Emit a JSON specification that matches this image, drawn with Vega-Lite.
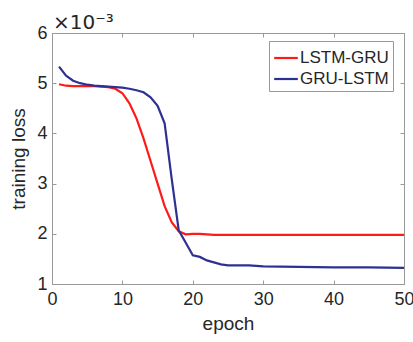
{
  "$schema": "https://vega.github.io/schema/vega-lite/v6.json",
  "width": 352,
  "height": 251,
  "autosize": {"type": "none"},
  "padding": {"left": 52, "top": 33, "right": 9, "bottom": 58},
  "background": "white",
  "title": {"text": "×10⁻³", "anchor": "start", "frame": "group", "fontSize": 20, "fontWeight": "normal", "font": "DejaVu Sans", "color": "#262626", "offset": 0, "dx": 1, "dy": 9},
  "config": {
    "view": {"stroke": "#999999", "strokeWidth": 1},
    "axis": {"grid": false, "domainColor": "#999999", "tickColor": "#999999", "labelColor": "#262626", "titleColor": "#262626", "labelFont": "Liberation Sans", "titleFont": "Liberation Sans", "labelFontSize": 18, "titleFontSize": 19, "titleFontWeight": "normal", "tickSize": -4},
    "legend": {"labelFont": "Liberation Sans"}
  },
  "data": {"values": [
    {"epoch": 1, "s": "LSTM-GRU", "loss": 4.98}, {"epoch": 2, "s": "LSTM-GRU", "loss": 4.95}, {"epoch": 3, "s": "LSTM-GRU", "loss": 4.94}, {"epoch": 4, "s": "LSTM-GRU", "loss": 4.94}, {"epoch": 5, "s": "LSTM-GRU", "loss": 4.94},
    {"epoch": 6, "s": "LSTM-GRU", "loss": 4.94}, {"epoch": 7, "s": "LSTM-GRU", "loss": 4.93}, {"epoch": 8, "s": "LSTM-GRU", "loss": 4.92}, {"epoch": 9, "s": "LSTM-GRU", "loss": 4.89}, {"epoch": 10, "s": "LSTM-GRU", "loss": 4.8},
    {"epoch": 11, "s": "LSTM-GRU", "loss": 4.6}, {"epoch": 12, "s": "LSTM-GRU", "loss": 4.3}, {"epoch": 13, "s": "LSTM-GRU", "loss": 3.9}, {"epoch": 14, "s": "LSTM-GRU", "loss": 3.45}, {"epoch": 15, "s": "LSTM-GRU", "loss": 3.0},
    {"epoch": 16, "s": "LSTM-GRU", "loss": 2.55}, {"epoch": 17, "s": "LSTM-GRU", "loss": 2.23}, {"epoch": 18, "s": "LSTM-GRU", "loss": 2.05}, {"epoch": 19, "s": "LSTM-GRU", "loss": 1.99}, {"epoch": 20, "s": "LSTM-GRU", "loss": 2.0},
    {"epoch": 21, "s": "LSTM-GRU", "loss": 2.0}, {"epoch": 22, "s": "LSTM-GRU", "loss": 1.99}, {"epoch": 23, "s": "LSTM-GRU", "loss": 1.98}, {"epoch": 25, "s": "LSTM-GRU", "loss": 1.98}, {"epoch": 30, "s": "LSTM-GRU", "loss": 1.98},
    {"epoch": 35, "s": "LSTM-GRU", "loss": 1.98}, {"epoch": 40, "s": "LSTM-GRU", "loss": 1.98}, {"epoch": 45, "s": "LSTM-GRU", "loss": 1.98}, {"epoch": 50, "s": "LSTM-GRU", "loss": 1.98},
    {"epoch": 1, "s": "GRU-LSTM", "loss": 5.33}, {"epoch": 2, "s": "GRU-LSTM", "loss": 5.15}, {"epoch": 3, "s": "GRU-LSTM", "loss": 5.05}, {"epoch": 4, "s": "GRU-LSTM", "loss": 5.0}, {"epoch": 5, "s": "GRU-LSTM", "loss": 4.97},
    {"epoch": 6, "s": "GRU-LSTM", "loss": 4.95}, {"epoch": 7, "s": "GRU-LSTM", "loss": 4.94}, {"epoch": 8, "s": "GRU-LSTM", "loss": 4.93}, {"epoch": 9, "s": "GRU-LSTM", "loss": 4.92}, {"epoch": 10, "s": "GRU-LSTM", "loss": 4.91},
    {"epoch": 11, "s": "GRU-LSTM", "loss": 4.89}, {"epoch": 12, "s": "GRU-LSTM", "loss": 4.86}, {"epoch": 13, "s": "GRU-LSTM", "loss": 4.82}, {"epoch": 14, "s": "GRU-LSTM", "loss": 4.72}, {"epoch": 15, "s": "GRU-LSTM", "loss": 4.55},
    {"epoch": 16, "s": "GRU-LSTM", "loss": 4.2}, {"epoch": 17, "s": "GRU-LSTM", "loss": 3.1}, {"epoch": 18, "s": "GRU-LSTM", "loss": 2.07}, {"epoch": 19, "s": "GRU-LSTM", "loss": 1.82}, {"epoch": 20, "s": "GRU-LSTM", "loss": 1.57},
    {"epoch": 21, "s": "GRU-LSTM", "loss": 1.54}, {"epoch": 22, "s": "GRU-LSTM", "loss": 1.47}, {"epoch": 23, "s": "GRU-LSTM", "loss": 1.43}, {"epoch": 24, "s": "GRU-LSTM", "loss": 1.39}, {"epoch": 25, "s": "GRU-LSTM", "loss": 1.37},
    {"epoch": 26, "s": "GRU-LSTM", "loss": 1.37}, {"epoch": 27, "s": "GRU-LSTM", "loss": 1.37}, {"epoch": 28, "s": "GRU-LSTM", "loss": 1.37}, {"epoch": 30, "s": "GRU-LSTM", "loss": 1.35}, {"epoch": 35, "s": "GRU-LSTM", "loss": 1.34},
    {"epoch": 40, "s": "GRU-LSTM", "loss": 1.33}, {"epoch": 45, "s": "GRU-LSTM", "loss": 1.33}, {"epoch": 50, "s": "GRU-LSTM", "loss": 1.32}
  ]},
  "layer": [
    {
      "mark": {"type": "line", "strokeWidth": 2.2},
      "encoding": {
        "x": {"field": "epoch", "type": "quantitative", "scale": {"domain": [0, 50], "nice": false}, "axis": {"orient": "bottom", "values": [0, 10, 20, 30, 40, 50], "title": "epoch", "labelPadding": 10, "titlePadding": 6, "labelFlush": false}},
        "y": {"field": "loss", "type": "quantitative", "scale": {"domain": [1, 6], "nice": false}, "axis": {"orient": "left", "values": [1, 2, 3, 4, 5, 6], "title": "training loss", "labelPadding": 9, "titlePadding": 8}},
        "color": {"field": "s", "type": "nominal", "scale": {"domain": ["LSTM-GRU", "GRU-LSTM"], "range": ["#ff1a1a", "#2e3192"]},
          "legend": {"title": null, "orient": "none", "legendX": 217, "legendY": 8, "strokeColor": "#999999", "fillColor": "white", "padding": 4, "labelFontSize": 17, "labelColor": "#262626", "symbolType": "stroke", "symbolSize": 560, "symbolStrokeWidth": 2.2, "labelOffset": 1, "rowPadding": -3}}
      }
    },
    {
      "mark": {"type": "line", "opacity": 0},
      "encoding": {
        "x": {"field": "epoch", "type": "quantitative", "scale": {"domain": [0, 50], "nice": false}, "axis": {"orient": "top", "values": [0, 10, 20, 30, 40, 50], "labels": false, "title": null}},
        "y": {"field": "loss", "type": "quantitative", "scale": {"domain": [1, 6], "nice": false}, "axis": {"orient": "right", "values": [1, 2, 3, 4, 5, 6], "labels": false, "title": null}},
        "detail": {"field": "s"}
      }
    }
  ],
  "resolve": {"axis": {"x": "independent", "y": "independent"}}
}
